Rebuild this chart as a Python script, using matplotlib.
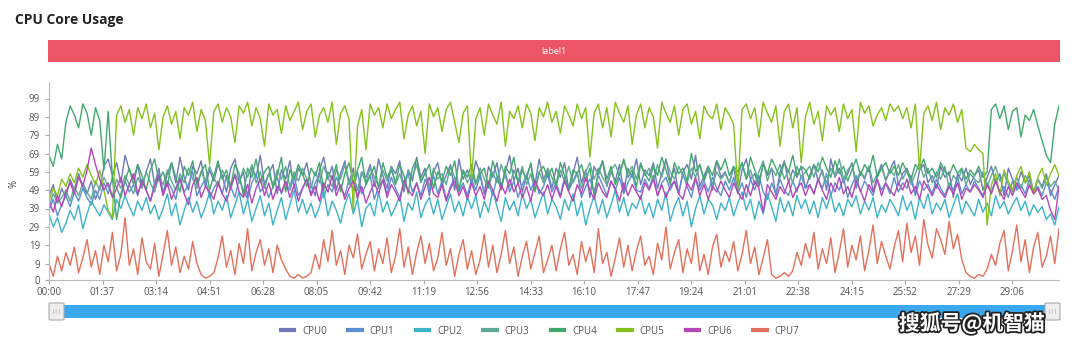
import numpy as np
import matplotlib.pyplot as plt
from matplotlib.lines import Line2D
from matplotlib.patches import FancyBboxPatch, Rectangle
import matplotlib.patheffects as pe

plt.rcParams['font.family'] = ['Open Sans', 'DejaVu Sans']

# total duration in seconds shown on the category axis
duration = 1831
tick_secs = [0, 97, 194, 291, 388, 485, 582, 679, 776, 873, 970, 1067,
             1164, 1261, 1358, 1455, 1552, 1649, 1746]
tick_labels = ['00:00', '01:37', '03:14', '04:51', '06:28', '08:05', '09:42',
               '11:19', '12:56', '14:33', '16:10', '17:47', '19:24', '21:01',
               '22:38', '24:15', '25:52', '27:29', '29:06']
y_ticks = [0, 9, 19, 29, 39, 49, 59, 69, 79, 89, 99]

names = ['CPU0', 'CPU1', 'CPU2', 'CPU3', 'CPU4', 'CPU5', 'CPU6', 'CPU7']
colors = ['#6f79b8', '#5b8fd2', '#3db3c8', '#5fa995', '#42a86e',
          '#86c21c', '#b646b8', '#e3705b']

cpu0 = [46, 52, 42, 50, 45, 55, 49, 58, 51, 47, 54, 44, 50, 62, 66, 57, 64, 53, 68, 60,
        55, 63, 50, 59, 66, 52, 61, 47, 58, 64, 53, 67, 56, 49, 62, 58, 65, 51, 60, 54,
        63, 57, 48, 61, 66, 53, 59, 45, 62, 56, 68, 52, 58, 63, 47, 60, 55, 65, 50, 61,
        57, 64, 52, 46, 60, 67, 55, 62, 49, 58, 65, 53, 61, 44, 59, 56, 63, 51, 66, 57,
        50, 62, 58, 65, 48, 60, 54, 67, 56, 61, 46, 59, 64, 52, 57, 63, 49, 66, 55, 60,
        53, 65, 58, 47, 62, 56, 64, 51, 59, 68, 54, 61, 48, 57, 63, 52, 66, 55, 60, 50,
        61, 56, 64, 49, 58, 67, 53, 60, 45, 62, 57, 65, 51, 59, 54, 63, 48, 61, 56, 66,
        52, 60, 57, 64, 50, 58, 66, 54, 61, 47, 59, 63, 55, 68, 51, 57, 62, 49, 65, 56,
        59, 53, 62, 48, 60, 66, 55, 58, 51, 64, 57, 61, 46, 59, 65, 53, 60, 56, 62, 50,
        57, 63, 54, 60, 49, 66, 56, 61, 53, 58, 64, 50, 59, 55, 62, 48, 57, 63, 54, 60,
        65, 52, 58, 61, 55, 47, 60, 63, 53, 57, 50, 62, 56, 59, 45, 58, 54, 61, 52, 57,
        60, 49, 56, 62, 53, 58, 46, 61, 55, 50, 59, 53, 57, 48, 55, 51, 58, 46, 52, 57]
cpu1 = [38, 44, 35, 41, 46, 40, 48, 43, 50, 45, 41, 49, 44, 53, 47, 56, 50, 45, 54, 48,
        52, 46, 55, 49, 43, 53, 58, 47, 54, 50, 44, 56, 48, 52, 59, 46, 51, 55, 45, 50,
        54, 47, 57, 51, 45, 55, 49, 44, 53, 58, 48, 52, 45, 51, 56, 47, 53, 49, 57, 46,
        50, 55, 47, 53, 58, 45, 52, 48, 56, 51, 46, 55, 49, 59, 47, 52, 57, 44, 51, 54,
        47, 56, 50, 45, 54, 58, 48, 53, 46, 55, 49, 57, 47, 54, 44, 51, 56, 48, 53, 46,
        55, 49, 57, 47, 53, 46, 56, 50, 59, 48, 54, 45, 52, 57, 49, 55, 47, 51, 58, 48,
        53, 46, 56, 49, 54, 59, 45, 51, 55, 48, 57, 52, 46, 54, 49, 56, 47, 53, 58, 49,
        48, 55, 50, 57, 46, 53, 56, 49, 54, 47, 58, 51, 45, 55, 49, 54, 48, 56, 50, 46,
        54, 49, 56, 47, 53, 45, 55, 49, 57, 48, 44, 53, 47, 55, 49, 46, 54, 48, 57, 50,
        52, 47, 55, 50, 58, 46, 53, 49, 56, 45, 52, 57, 48, 54, 50, 46, 55, 49, 53, 47,
        56, 48, 53, 50, 57, 46, 54, 49, 52, 47, 55, 50, 46, 53, 49, 56, 47, 52, 48, 54,
        50, 46, 53, 48, 55, 47, 51, 45, 54, 49, 52, 47, 55, 48, 51, 46, 53, 49, 44, 51]
cpu2 = [36, 29, 34, 26, 31, 38, 33, 41, 28, 36, 43, 39, 35, 41, 37, 33, 44, 39, 46, 40,
        35, 43, 38, 45, 36, 41, 33, 39, 47, 35, 42, 30, 38, 45, 37, 43, 34, 40, 48, 36,
        43, 38, 46, 34, 41, 48, 36, 44, 32, 39, 46, 35, 42, 30, 38, 45, 33, 41, 49, 37,
        44, 36, 42, 34, 40, 49, 35, 43, 38, 31, 41, 47, 36, 44, 29, 39, 42, 35, 48, 37,
        43, 35, 40, 46, 32, 42, 38, 48, 34, 41, 45, 36, 44, 33, 40, 47, 37, 43, 35, 45,
        39, 46, 34, 43, 37, 49, 40, 32, 45, 38, 43, 35, 47, 39, 44, 34, 41, 48, 36, 44,
        40, 33, 44, 38, 47, 35, 43, 30, 39, 46, 36, 44, 34, 41, 49, 37, 45, 35, 42, 39,
        46, 36, 42, 34, 44, 38, 48, 32, 40, 45, 35, 43, 29, 39, 46, 36, 44, 41, 33, 42,
        38, 45, 35, 42, 48, 38, 44, 33, 43, 36, 47, 40, 32, 45, 37, 43, 35, 46, 39, 44,
        36, 43, 34, 45, 39, 47, 37, 42, 35, 44, 40, 46, 36, 43, 38, 45, 34, 41, 37, 44,
        40, 35, 46, 38, 43, 33, 45, 39, 47, 36, 42, 38, 44, 34, 41, 47, 36, 43, 39, 35,
        44, 37, 42, 35, 46, 39, 43, 36, 41, 45, 38, 43, 35, 41, 37, 40, 33, 36, 30, 40]
cpu3 = [40, 47, 42, 45, 49, 43, 51, 46, 53, 48, 44, 54, 49, 56, 51, 46, 55, 50, 57, 52,
        47, 56, 51, 59, 53, 48, 57, 52, 60, 54, 49, 58, 53, 61, 55, 50, 59, 54, 62, 56,
        51, 60, 55, 49, 58, 53, 61, 56, 63, 53, 59, 50, 58, 52, 60, 55, 62, 51, 59, 54,
        61, 55, 50, 59, 53, 62, 56, 51, 60, 55, 63, 52, 58, 49, 59, 53, 61, 56, 51, 60,
        54, 62, 52, 58, 50, 60, 56, 63, 53, 59, 51, 61, 55, 58, 52, 62, 56, 49, 59, 53,
        58, 52, 61, 55, 50, 59, 53, 63, 56, 51, 60, 54, 62, 52, 58, 49, 59, 53, 61, 56,
        51, 60, 54, 62, 53, 58, 50, 59, 64, 55, 61, 56, 52, 60, 63, 57, 65, 58, 62, 55,
        64, 57, 61, 54, 63, 56, 65, 59, 55, 62, 57, 53, 61, 56, 63, 54, 60, 52, 59, 55,
        58, 53, 61, 56, 64, 55, 60, 52, 59, 65, 54, 61, 57, 63, 55, 60, 53, 62, 56, 59,
        62, 56, 64, 58, 53, 61, 57, 66, 55, 60, 63, 54, 59, 56, 62, 53, 58, 61, 55, 60,
        57, 63, 55, 60, 52, 58, 64, 56, 61, 53, 59, 55, 62, 50, 57, 54, 60, 52, 58, 55,
        53, 59, 51, 57, 62, 54, 58, 52, 48, 56, 50, 57, 52, 47, 55, 50, 56, 51, 54, 49]
cpu4 = [68, 62, 74, 66, 86, 95, 90, 83, 96, 91, 79, 94, 87, 60, 92, 56, 33, 47, 54, 61,
        52, 63, 57, 49, 60, 66, 54, 59, 51, 64, 56, 48, 62, 57, 65, 52, 59, 63, 49, 57,
        65, 55, 60, 51, 63, 58, 46, 61, 56, 66, 53, 59, 62, 50, 57, 67, 48, 60, 55, 63,
        58, 51, 61, 57, 64, 49, 59, 55, 63, 48, 58, 64, 53, 60, 67, 52, 57, 62, 50, 64,
        56, 60, 53, 63, 57, 47, 61, 66, 54, 58, 63, 50, 59, 54, 62, 57, 65, 49, 60, 56,
        63, 53, 58, 61, 51, 65, 57, 49, 62, 58, 67, 52, 60, 55, 64, 48, 59, 62, 56, 61,
        52, 64, 57, 50, 60, 58, 63, 54, 61, 46, 59, 65, 55, 62, 52, 58, 66, 56, 60, 51,
        63, 58, 54, 62, 57, 67, 60, 52, 64, 58, 61, 54, 69, 59, 63, 55, 62, 57, 65, 60,
        66, 57, 62, 59, 64, 55, 67, 60, 53, 63, 58, 66, 61, 56, 64, 59, 68, 57, 62, 60,
        55, 63, 59, 67, 61, 56, 65, 58, 62, 54, 60, 66, 57, 63, 59, 68, 56, 61, 64, 58,
        62, 57, 64, 59, 55, 63, 60, 66, 58, 61, 56, 64, 59, 57, 63, 58, 61, 55, 60, 57,
        62, 56, 59, 93, 96, 88, 95, 82, 92, 94, 78, 90, 87, 93, 84, 76, 68, 64, 85, 95]
cpu5 = [43, 50, 46, 55, 51, 58, 53, 61, 56, 63, 57, 52, 60, 49, 38, 34, 90, 95, 86, 93,
        79, 94, 88, 96, 83, 91, 71, 89, 95, 85, 92, 77, 94, 90, 97, 81, 93, 87, 63, 92,
        96, 86, 94, 89, 75, 95, 91, 97, 84, 94, 88, 73, 96, 90, 93, 80, 95, 87, 92, 97,
        82, 92, 96, 78, 90, 94, 86, 97, 74, 91, 95, 88, 38, 84, 93, 71, 96, 90, 94, 83,
        96, 88, 93, 97, 77, 90, 95, 84, 92, 69, 96, 89, 94, 81, 93, 97, 86, 75, 91, 95,
        55, 88, 94, 79, 96, 90, 85, 97, 73, 92, 88, 95, 83, 96, 91, 76, 94, 89, 97, 86,
        92, 80, 95, 90, 84, 96, 88, 94, 67, 91, 96, 83, 94, 78, 97, 91, 86, 95, 74, 90,
        96, 83, 94, 89, 72, 97, 91, 86, 95, 79, 93, 96, 85, 92, 77, 95, 90, 88, 96, 82,
        94, 90, 85, 49, 93, 96, 88, 94, 78, 97, 91, 86, 95, 73, 92, 96, 83, 94, 64, 89,
        97, 85, 92, 76, 95, 90, 94, 81, 96, 88, 93, 70, 97, 91, 95, 84, 90, 94, 87, 96,
        92, 95, 88, 94, 83, 96, 60, 91, 95, 87, 97, 82, 94, 90, 96, 86, 93, 72, 70, 74,
        71, 69, 30, 52, 58, 46, 60, 54, 49, 57, 62, 53, 59, 47, 56, 61, 52, 58, 63, 57]
cpu6 = [43, 37, 46, 40, 48, 53, 47, 56, 51, 60, 72, 63, 55, 49, 53, 45, 50, 56, 46, 52,
        58, 47, 54, 49, 43, 51, 57, 46, 53, 44, 50, 55, 47, 41, 52, 56, 45, 51, 48, 44,
        53, 47, 43, 51, 57, 48, 45, 52, 42, 50, 55, 46, 53, 44, 51, 48, 54, 45, 52, 43,
        50, 55, 46, 51, 43, 53, 48, 57, 46, 52, 44, 50, 54, 45, 51, 42, 48, 53, 47, 55,
        45, 52, 48, 43, 54, 49, 46, 53, 44, 51, 56, 47, 45, 52, 43, 50, 54, 46, 51, 44,
        53, 46, 51, 44, 54, 49, 43, 52, 47, 55, 48, 53, 45, 51, 43, 54, 49, 46, 52, 44,
        51, 45, 54, 48, 43, 52, 47, 56, 49, 44, 53, 48, 45, 54, 50, 43, 53, 46, 52, 48,
        44, 53, 49, 55, 46, 52, 45, 51, 54, 47, 44, 53, 49, 56, 46, 52, 44, 51, 48, 54,
        49, 45, 53, 48, 44, 52, 46, 54, 50, 37, 52, 48, 44, 51, 47, 54, 45, 50, 53, 46,
        52, 47, 55, 49, 44, 53, 48, 56, 47, 51, 45, 54, 49, 43, 52, 48, 55, 46, 53, 49,
        46, 53, 49, 55, 47, 51, 44, 54, 50, 46, 52, 48, 45, 51, 47, 53, 44, 50, 48, 52,
        49, 45, 52, 47, 54, 48, 44, 51, 46, 53, 49, 45, 52, 47, 50, 44, 46, 38, 33, 51]
cpu7 = [9, 2, 13, 5, 15, 8, 18, 4, 12, 22, 7, 16, 3, 19, 10, 26, 5, 14, 34, 8,
        17, 3, 23, 10, 6, 20, 2, 14, 27, 8, 18, 4, 13, 6, 21, 9, 3, 1, 2, 4,
        12, 24, 7, 16, 3, 20, 9, 28, 5, 15, 22, 8, 17, 4, 19, 11, 6, 2, 1, 3,
        1, 2, 4, 14, 6, 22, 10, 27, 8, 16, 3, 19, 12, 25, 6, 14, 21, 5, 17, 9,
        23, 4, 13, 28, 7, 18, 3, 15, 24, 9, 20, 5, 12, 26, 8, 17, 2, 14, 22, 6,
        16, 3, 11, 25, 7, 19, 4, 14, 27, 9, 18, 2, 13, 21, 6, 15, 24, 4, 11, 19,
        5, 17, 26, 8, 14, 3, 21, 10, 18, 4, 28, 9, 15, 2, 12, 23, 7, 19, 5, 16,
        24, 8, 13, 3, 20, 11, 29, 6, 15, 22, 4, 17, 9, 26, 5, 14, 3, 18, 25, 7,
        16, 10, 21, 5, 14, 27, 9, 18, 3, 12, 22, 3, 1, 2, 4, 2, 5, 15, 8, 20,
        12, 26, 6, 17, 9, 23, 4, 15, 28, 7, 19, 11, 24, 5, 16, 30, 9, 21, 13, 6,
        18, 27, 10, 31, 15, 24, 8, 33, 19, 12, 28, 22, 14, 32, 17, 25, 11, 4, 2, 1,
        3, 2, 6, 14, 8, 20, 27, 5, 16, 30, 10, 22, 4, 18, 26, 7, 13, 24, 9, 28]


def fx(px):
    return px / 1080.0


def fy(py):
    return 1 - py / 347.0


def draw_frame(fig):
    ''' title, red label band, slider and watermark '''
    fig.text(fx(15), fy(20), 'CPU Core Usage', fontsize=10, fontweight='bold',
             color='#222222', va='center', ha='left')
    fig.add_artist(Rectangle((fx(48), fy(62)), fx(1060) - fx(48), fy(40) - fy(62),
                             transform=fig.transFigure, color='#ec5566', lw=0))
    fig.text(fx(554), fy(51), 'label1', fontsize=6.5, color='white',
             ha='center', va='center')

    # data zoom slider
    fig.add_artist(FancyBboxPatch((fx(52), fy(318)), fx(1056) - fx(52), fy(305) - fy(318),
                                  boxstyle='round,pad=0,rounding_size=0.004',
                                  transform=fig.transFigure, color='#3aa8ef', lw=0))
    for x0 in (49, 1045):
        fig.add_artist(FancyBboxPatch((fx(x0), fy(320)), fx(15), fy(303) - fy(320),
                                      boxstyle='round,pad=0,rounding_size=0.002',
                                      transform=fig.transFigure, fc='#eeeeee',
                                      ec='#aaaaaa', lw=0.8))
        fig.text(fx(x0 + 7.5), fy(311.5), '|||', fontsize=4.5, color='#888888',
                 ha='center', va='center')

    fig.text(fx(972), fy(323), '搜狐号@机智猫', fontsize=15, color='white',
             fontweight='bold', ha='center', va='center',
             family=['Noto Sans CJK SC', 'DejaVu Sans'],
             path_effects=[pe.withStroke(linewidth=2.5, foreground='#222222')])


def plot_usage(fig):
    ax = fig.add_axes([fx(49), fy(280), fx(1059) - fx(49), fy(82) - fy(280)])
    series = [cpu0, cpu1, cpu2, cpu3, cpu4, cpu5, cpu6, cpu7]
    n = len(cpu0)
    t = np.linspace(0, duration, n)
    for name, c, s in zip(names, colors, series):
        ax.plot(t, s, color=c, lw=1.0, label=name)

    ax.set_xlim(0, duration)
    ax.set_ylim(0, 108)
    ax.set_xticks(tick_secs)
    ax.set_xticklabels(tick_labels)
    ax.set_yticks(y_ticks)
    ax.tick_params(axis='both', labelsize=7, colors='#555555', length=3,
                   width=0.8, color='#aaaaaa')
    ax.tick_params(axis='x', pad=2)
    for side in ('top', 'right'):
        ax.spines[side].set_visible(False)
    for side in ('left', 'bottom'):
        ax.spines[side].set_color('#bbbbbb')
        ax.spines[side].set_linewidth(0.8)
    fig.text(fx(14), fy(184), '%', fontsize=7, color='#444444', rotation=90,
             ha='center', va='center')

    handles = [Line2D([0], [0], color=c, lw=3) for c in colors]
    fig.legend(handles, names, loc='center', bbox_to_anchor=(fx(540), fy(331)),
               ncol=8, frameon=False, fontsize=7, handlelength=1.4,
               handletextpad=0.8, columnspacing=2.2, labelcolor='#555555')


def main():
    fig = plt.figure(figsize=(10.8, 3.47), dpi=100)
    plot_usage(fig)
    draw_frame(fig)
    fig.savefig('out.png', dpi=100)


if __name__ == '__main__':
    main()
